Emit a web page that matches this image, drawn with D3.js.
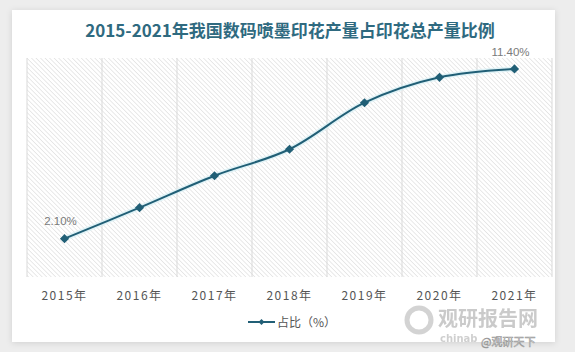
<!DOCTYPE html>
<html>
<head>
<meta charset="utf-8">
<script src="https://cdn.jsdelivr.net/npm/d3@7/dist/d3.min.js"></script>
<style>
  body { margin: 0; background: #ededed; }
  svg { display: block; }
</style>
</head>
<body>
<div id="app"></div>
<script>
const years = ["2015年", "2016年", "2017年", "2018年", "2019年", "2020年", "2021年"];
const shares = [2.1, 3.8, 5.55, 7.0, 9.55, 10.94, 11.4];
const labelled = { 0: "2.10%", 6: "11.40%" };
const title = "2015-2021年我国数码喷墨印花产量占印花总产量比例";
const legendName = "占比（%）";

const width = 575, height = 352;
const plot = { left: 27, right: 552, top: 58, bottom: 277 };
const lineColor = "#215f76";

const x = d3.scaleBand().domain(years).range([plot.left, plot.right]).padding(0);
const y = d3.scaleLinear().domain([0, 12]).range([plot.bottom, plot.top]);

const svg = d3.select("#app").append("svg")
  .attr("width", width).attr("height", height);

const defs = svg.append("defs");
const shadow = defs.append("filter").attr("id", "shadow")
  .attr("x", "-5%").attr("y", "-5%").attr("width", "110%").attr("height", "110%");
shadow.append("feDropShadow").attr("dx", 0).attr("dy", 1).attr("stdDeviation", 3)
  .attr("flood-color", "#000").attr("flood-opacity", 0.12);

// diagonal hatch, lines running top-left to bottom-right
const hatch = defs.append("pattern").attr("id", "hatch")
  .attr("patternUnits", "userSpaceOnUse").attr("width", 3.2).attr("height", 3.2)
  .attr("patternTransform", "rotate(-45)");
hatch.append("line").attr("x1", 0).attr("y1", 0).attr("x2", 0).attr("y2", 3.2)
  .attr("stroke", "#d4d4d4").attr("stroke-width", 1);

// card
svg.append("rect").attr("x", 12).attr("y", 10).attr("width", 543).attr("height", 332)
  .attr("fill", "#fff").attr("filter", "url(#shadow)");

// title
svg.append("text")
  .attr("x", 290).attr("y", 37)
  .attr("text-anchor", "middle")
  .style("font-family", "'Noto Sans CJK SC', 'DejaVu Sans', sans-serif")
  .style("font-size", "17px").style("font-weight", "bold")
  .attr("fill", "#2f6a80")
  .text(title);

// plot area hatch
svg.append("rect")
  .attr("x", plot.left).attr("y", plot.top)
  .attr("width", plot.right - plot.left).attr("height", plot.bottom - plot.top)
  .attr("fill", "url(#hatch)");

// vertical category lines
const bounds = years.map(d => x(d)).concat([plot.right]);
svg.append("g").selectAll("line").data(bounds).join("line")
  .attr("x1", d => d).attr("x2", d => d)
  .attr("y1", plot.top).attr("y2", plot.bottom)
  .attr("stroke", "#d9d9d9").attr("stroke-width", 1);

// x labels
svg.append("g").selectAll("text").data(years).join("text")
  .attr("x", d => x(d) + x.bandwidth() / 2)
  .attr("y", 300)
  .attr("text-anchor", "middle")
  .style("font-family", "'Noto Sans CJK SC', sans-serif")
  .style("font-size", "12px").style("letter-spacing", "1.5px")
  .attr("fill", "#555")
  .text(d => d);

// line
const pts = years.map((d, i) => [x(d) + x.bandwidth() / 2, y(shares[i])]);
const line = d3.line().curve(d3.curveCatmullRom.alpha(0.5));

svg.append("path").attr("d", line(pts))
  .attr("fill", "none").attr("stroke", "#d6f0f5").attr("stroke-width", 5).attr("opacity", 0.7);
svg.append("path").attr("d", line(pts))
  .attr("fill", "none").attr("stroke", lineColor).attr("stroke-width", 2);

// square markers turned 45°
const diamond = d3.symbol().type(d3.symbolSquare).size(42);
svg.append("g").selectAll("path").data(pts).join("path")
  .attr("transform", d => `translate(${d[0]},${d[1]}) rotate(45)`)
  .attr("d", diamond)
  .attr("fill", lineColor);

// data labels
svg.append("g").selectAll("text").data(Object.keys(labelled)).join("text")
  .attr("x", i => pts[i][0] - 4)
  .attr("y", i => pts[i][1] - (i == 0 ? 14 : 13))
  .attr("text-anchor", "middle")
  .style("font-family", "'Liberation Sans', Arial, sans-serif")
  .style("font-size", "11.5px")
  .attr("fill", "#7a7a7a")
  .text(i => labelled[i]);

// legend
const lg = svg.append("g").attr("transform", "translate(248,322)");
lg.append("line").attr("x1", 0).attr("x2", 27).attr("y1", 0).attr("y2", 0)
  .attr("stroke", lineColor).attr("stroke-width", 2);
lg.append("path").attr("transform", "translate(13.5,0) rotate(45)")
  .attr("d", d3.symbol().type(d3.symbolSquare).size(18)).attr("fill", lineColor);
lg.append("text").attr("x", 29).attr("y", 4.5)
  .style("font-family", "'Noto Sans CJK SC', sans-serif")
  .style("font-size", "12px").attr("fill", "#555")
  .text(legendName);

// watermark
const wm = svg.append("g").attr("opacity", 0.55);
wm.append("circle").attr("cx", 419).attr("cy", 320).attr("r", 12)
  .attr("fill", "none").attr("stroke", "#b0b0b0").attr("stroke-width", 5);
wm.append("text").attr("x", 438).attr("y", 326)
  .style("font-family", "'Noto Sans CJK SC', sans-serif")
  .style("font-size", "20px").style("font-weight", "bold")
  .attr("fill", "#a0a0a0").text("观研报告网");
wm.append("text").attr("x", 440).attr("y", 342)
  .style("font-family", "'DejaVu Sans', sans-serif")
  .style("font-size", "10px").style("font-weight", "bold")
  .attr("fill", "#a9a9a9").text("chinab");
svg.append("text").attr("x", 481).attr("y", 346)
  .style("font-family", "'Noto Sans CJK SC', sans-serif")
  .style("font-size", "11px")
  .attr("fill", "#fff").attr("stroke", "#999").attr("stroke-width", 0.6)
  .text("@观研天下");
</script>
</body>
</html>
